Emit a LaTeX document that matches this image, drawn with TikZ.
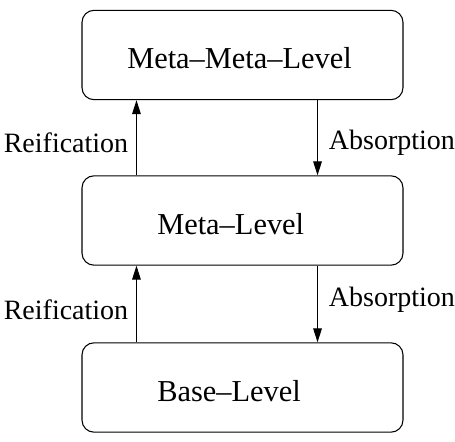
\documentclass[tikz,border=0pt]{standalone}
\usepackage{fontspec}
\setmainfont{Liberation Serif}
\usetikzlibrary{arrows.meta,positioning}

\tikzset{
  levelbox/.style={draw,rounded corners=9pt,line width=0.8pt,minimum width=240.75pt,minimum height=67pt},
  boxtext/.style={anchor=base west,inner sep=0pt,font=\fontsize{22.8}{27}\selectfont},
  sidelabel/.style={font=\fontsize{21}{25}\selectfont},
  updown/.style={line width=0.8pt,-{Triangle[length=10.5pt,width=6.5pt]}}
}

\begin{document}
\begin{tikzpicture}[x=0.75pt,y=-0.75pt]
  \useasboundingbox (0,0) rectangle (455,442);
  % the three levels
  \node[levelbox] (metameta) at (242.5,55) {};
  \node[levelbox] (meta) at (242.5,220.5) {};
  \node[levelbox] (base) at (242.5,387.5) {};
  \node[boxtext] (metametatext) at (127,69) {Meta--Meta--Level};
  \node[boxtext] (metatext) at (157,235) {Meta--Level};
  \node[boxtext] (basetext) at (157,402) {Base--Level};
  % upper pair of arrows
  \draw[updown] ([xshift=41.25pt]meta.north west) -- ([xshift=41.25pt]metameta.south west);
  \draw[updown] ([xshift=-64.5pt]metameta.south east) -- ([xshift=-64.5pt]meta.north east);
  \node[sidelabel] (reif1) at (66,143) {Reification};
  \node[sidelabel] (abs1) at (392,143) {Absorption};
  % lower pair of arrows
  \draw[updown] ([xshift=41.25pt]base.north west) -- ([xshift=41.25pt]meta.south west);
  \draw[updown] ([xshift=-64.5pt]meta.south east) -- ([xshift=-64.5pt]base.north east);
  \node[sidelabel] (reif2) at (66,310) {Reification};
  \node[sidelabel] (abs2) at (392,300) {Absorption};
\end{tikzpicture}
\end{document}
